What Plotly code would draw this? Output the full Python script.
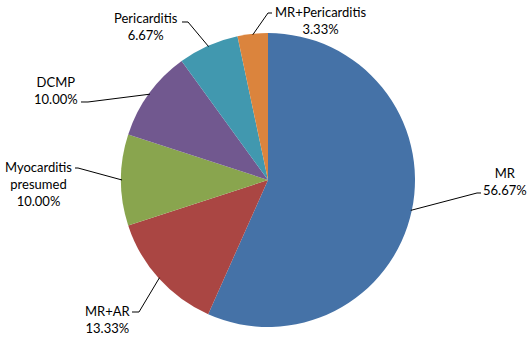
import math
import plotly.graph_objects as go

labels = ["MR", "MR+AR", "Myocarditis<br>presumed", "DCMP", "Pericarditis", "MR+Pericarditis"]
values = [56.67, 13.33, 10.00, 10.00, 6.67, 3.33]
colors = ["#4572A7", "#AA4643", "#89A54E", "#71588F", "#4198AF", "#DB843D"]

W, H = 530, 337
CX, CY, R = 268, 180, 147

# label text centres (pixels) and leader elbow points (pixels)
label_pos = [(505, 181), (108, 319), (38, 184), (56, 90), (146, 26), (320, 20)]
elbows = [[(477, 193), (481, 193)],
          [(139, 312), (132, 312)],
          [(78, 168), (75, 168)],
          [(88, 102), (81, 102)],
          [(188, 22), (182, 22)],
          [(268, 13), (272, 13)]]

def px(x):
    return x / W

def py(y):
    return 1 - y / H

fig = go.Figure(go.Pie(
    labels=labels, values=values, sort=False, direction="clockwise", rotation=0,
    marker=dict(colors=colors, line=dict(width=0)),
    textinfo="none", hoverinfo="label+percent", showlegend=False,
    domain=dict(x=[px(CX - R), px(CX + R)], y=[py(CY + R), py(CY - R)]),
))

total = sum(values)
cum = 0
shapes = []
annotations = []
for i, v in enumerate(values):
    mid = (cum + v / 2) / total * 2 * math.pi
    cum += v
    sx = CX + (R - 1) * math.sin(mid)
    sy = CY - (R - 1) * math.cos(mid)
    pts = [(sx, sy)] + elbows[i]
    path = "M " + " L ".join(f"{px(a):.5f},{py(b):.5f}" for a, b in pts)
    shapes.append(dict(type="path", xref="paper", yref="paper", path=path,
                       line=dict(color="black", width=1)))
    lx, ly = label_pos[i]
    annotations.append(dict(x=px(lx), y=py(ly), xref="paper", yref="paper",
                            text=f"{labels[i]}<br>{v:.2f}%", showarrow=False,
                            align="center", xanchor="center", yanchor="middle",
                            font=dict(family="Lato", size=13, color="black")))

fig.update_layout(width=W, height=H, margin=dict(l=0, r=0, t=0, b=0),
                  paper_bgcolor="white", plot_bgcolor="white",
                  shapes=shapes, annotations=annotations)
fig.write_html("out.html", config={"displayModeBar": False},
               post_script="document.body.style.margin='0';document.body.style.overflow='hidden';")
